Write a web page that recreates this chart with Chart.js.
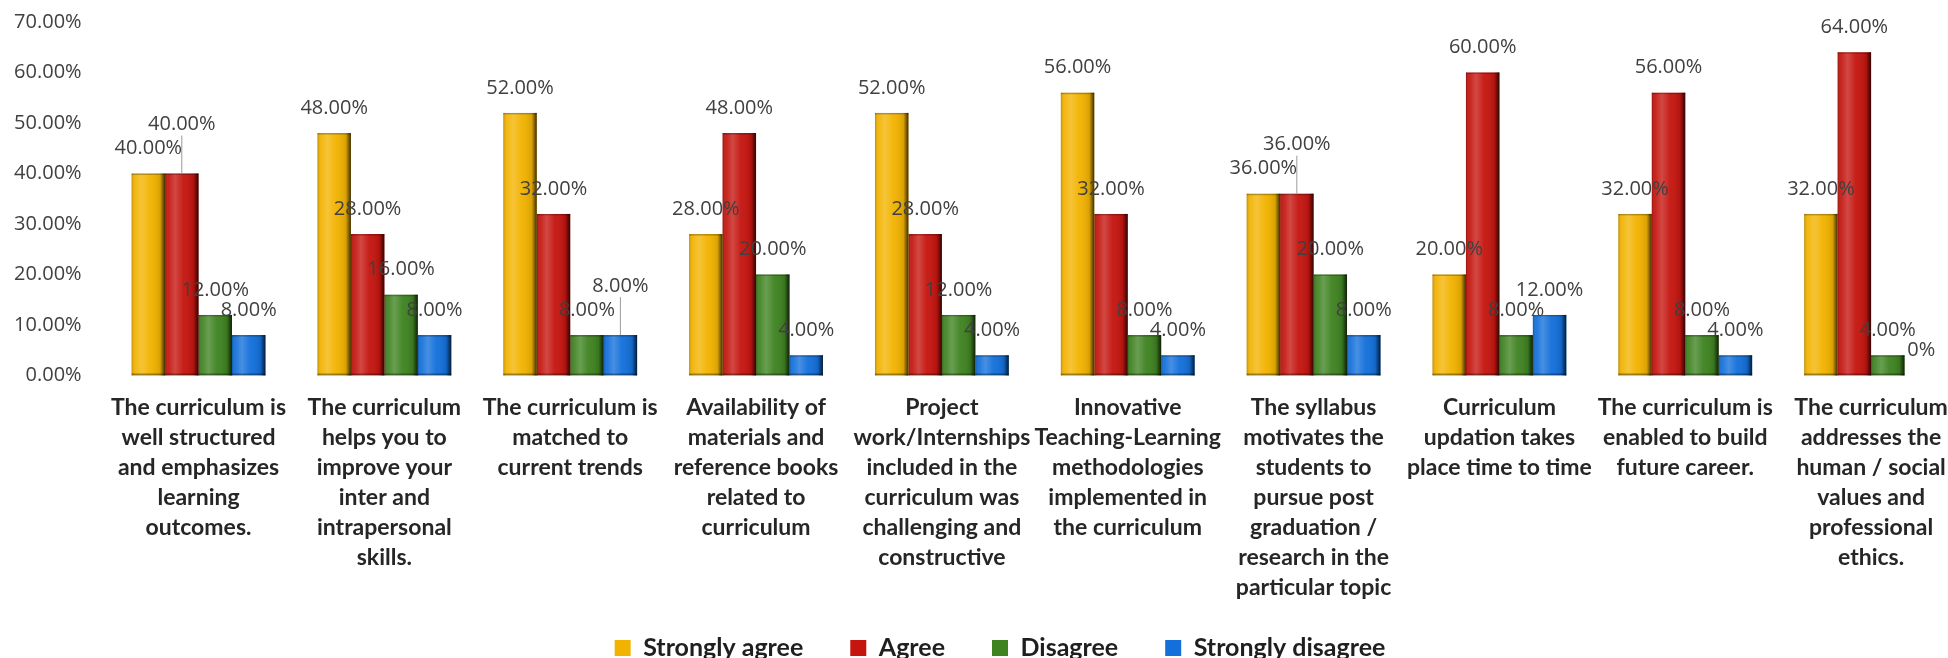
<!DOCTYPE html>
<html><head><meta charset="utf-8">
<script src="https://cdn.jsdelivr.net/npm/chart.js@4.4.1/dist/chart.umd.min.js"></script>
<style>
html,body{margin:0;padding:0;background:#fff;overflow:hidden;width:1948px;height:658px;}
#wrap{position:relative;width:2000px;height:658px;}
</style></head><body>
<div id="wrap"><canvas id="c" width="2000" height="658"></canvas></div>
<script>
const categories = [
  ['The curriculum is','well structured','and emphasizes','learning','outcomes.'],
  ['The curriculum','helps you to','improve your','inter and','intrapersonal','skills.'],
  ['The curriculum is','matched to','current trends'],
  ['Availability of','materials and','reference books','related to','curriculum'],
  ['Project','work/Internships','included in the','curriculum was','challenging and','constructive'],
  ['Innovative','Teaching-Learning','methodologies','implemented in','the curriculum'],
  ['The syllabus','motivates the','students to','pursue post','graduation /','research in the','particular topic'],
  ['Curriculum','updation takes','place time to time'],
  ['The curriculum is','enabled to build','future career.'],
  ['The curriculum','addresses the','human / social','values and','professional','ethics.']
];
const seriesNames = ['Strongly agree','Agree','Disagree','Strongly disagree'];
const stronglyAgree    = [40, 48, 52, 28, 52, 56, 36, 20, 32, 32];
const agree            = [40, 28, 32, 48, 28, 32, 36, 60, 56, 64];
const disagree         = [12, 16,  8, 20, 12,  8, 20,  8,  8,  4];
const stronglyDisagree = [ 8,  8,  8,  4,  4,  4,  8, 12,  4,  0];
const yTickValues = [0, 10, 20, 30, 40, 50, 60, 70];

const seriesColors = ['#F2B300', '#C5150F', '#3F8321', '#1370DB'];

const shadePlugin = {
  id: 'shade',
  afterLayout(chart) {
    // let the multi-line category labels draw below the axis box without clipping
    chart.scales.x.bottom = chart.height;
    // centre the legend on the full canvas width
    if (chart.legend) {
      chart.legend.right = chart.width;
      chart.legend.width = chart.legend.right - chart.legend.left;
    }
  },
  afterDatasetDraw(chart, args) {
    const ctx = chart.ctx;
    ctx.save();
    args.meta.data.forEach(el => {
      const p = el.getProps(['x', 'y', 'base', 'width'], true);
      const h = p.base - p.y;
      if (h < 0.5) return;
      const l = p.x - p.width / 2, r = p.x + p.width / 2;
      const g = ctx.createLinearGradient(l, 0, r, 0);
      g.addColorStop(0, 'rgba(0,0,0,0.22)');
      g.addColorStop(0.1, 'rgba(255,255,255,0.06)');
      g.addColorStop(0.3, 'rgba(255,255,255,0.22)');
      g.addColorStop(0.55, 'rgba(255,255,255,0.04)');
      g.addColorStop(0.85, 'rgba(0,0,0,0.10)');
      g.addColorStop(0.93, 'rgba(0,0,0,0.45)');
      g.addColorStop(1, 'rgba(0,0,0,0.75)');
      ctx.fillStyle = g;
      ctx.fillRect(l, p.y, p.width, h);
      ctx.fillStyle = 'rgba(0,0,0,0.25)';
      ctx.fillRect(l, p.y, p.width, 1.5);
      ctx.fillStyle = 'rgba(0,0,0,0.35)';
      ctx.fillRect(l, p.base - 2, p.width, 2);
    });
    ctx.restore();
  }
};

const labelPlugin = {
  id: 'valueLabels',
  afterDatasetsDraw(chart) {
    const ctx = chart.ctx;
    ctx.save();
    ctx.font = '20px "Open Sans"';
    ctx.textAlign = 'center';
    ctx.textBaseline = 'middle';
    const n = chart.data.labels.length;
    for (let i = 0; i < n; i++) {
      const placed = [];
      chart.data.datasets.forEach((ds, di) => {
        const el = chart.getDatasetMeta(di).data[i];
        const v = ds.data[i];
        const txt = v === 0 ? '0%' : v.toFixed(2) + '%';
        let y = el.y - 25;
        let raised = false;
        placed.forEach(py => { if (Math.abs(py - y) < 12) { y = py - 24; raised = true; } });
        if (raised) {
          ctx.strokeStyle = '#9a9a9a';
          ctx.lineWidth = 1;
          ctx.beginPath();
          ctx.moveTo(el.x, el.y);
          ctx.lineTo(el.x, y + 11);
          ctx.stroke();
        }
        ctx.fillStyle = '#404040';
        ctx.fillText(txt, el.x, y);
        placed.push(y);
      });
    }
    ctx.restore();
  }
};

const seriesData = [stronglyAgree, agree, disagree, stronglyDisagree];

new Chart(document.getElementById('c'), {
  type: 'bar',
  data: {
    labels: categories,
    datasets: seriesNames.map((name, k) => ({
      label: name,
      data: seriesData[k],
      backgroundColor: seriesColors[k],
      borderWidth: 0,
      categoryPercentage: 0.72,
      barPercentage: 1.0
    }))
  },
  options: {
    responsive: false,
    animation: false,
    devicePixelRatio: 1,
    layout: { padding: { top: 22, right: 36, bottom: -12.5, left: 0 } },
    plugins: {
      legend: {
        position: 'bottom',
        labels: {
          boxWidth: 16,
          boxHeight: 16,
          padding: 47,
          color: '#1f1f1f',
          font: { family: 'Lato', weight: 'bold', size: 25 }
        }
      },
      tooltip: { enabled: false }
    },
    scales: {
      x: {
        grid: { display: false, drawTicks: false },
        border: { display: false },
        ticks: {
          autoSkip: false,
          maxRotation: 0,
          minRotation: 0,
          padding: 17.5,
          color: '#262626',
          font: { family: 'Lato', weight: 'bold', size: 23, lineHeight: '30px' }
        },
        afterFit(scale) { scale.height = 213; }
      },
      y: {
        min: 0,
        max: 70,
        grid: { display: false, drawTicks: true, tickLength: 14 },
        border: { display: false },
        afterBuildTicks(scale) { scale.ticks = yTickValues.map(v => ({ value: v })); },
        ticks: {
          padding: 10,
          color: '#404040',
          font: { family: 'Open Sans', size: 20 },
          callback: v => v.toFixed(2) + '%'
        },
        afterFit(scale) { scale.width = 105.6; }
      }
    }
  },
  plugins: [shadePlugin, labelPlugin]
});
</script>
</body></html>
